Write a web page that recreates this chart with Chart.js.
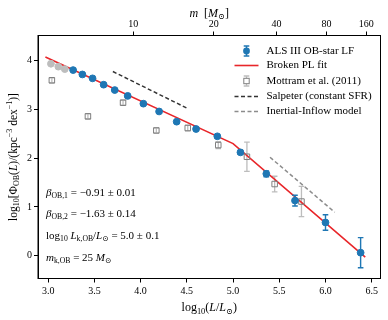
<!DOCTYPE html>
<html lang="en">
<head>
<meta charset="UTF-8">
<title>OB-star luminosity function</title>
<script src="https://cdn.jsdelivr.net/npm/chart.js"></script>
<style>
  body { margin: 0; background: #fff; }
  #wrap { width: 388px; height: 320px; position: relative; }
</style>
</head>
<body>
<div id="wrap"><canvas id="lf"></canvas></div>
<script>
    // ALS III OB-star LF (blue points)
    var blueL = [3.27, 3.37, 3.48, 3.60, 3.72, 3.86, 4.03, 4.20, 4.39, 4.60, 4.83, 5.08, 5.36, 5.67, 6.00, 6.38];
    var bluePhi = [3.81, 3.72, 3.64, 3.51, 3.40, 3.28, 3.12, 2.96, 2.75, 2.60, 2.45, 2.12, 1.68, 1.13, 0.68, 0.06];
    var blueErr = [0.01, 0.01, 0.01, 0.01, 0.01, 0.02, 0.02, 0.02, 0.02, 0.03, 0.03, 0.04, 0.06, 0.11, 0.16, 0.31];
    // bins left out of the fit (grey)
    var lowL = [3.03, 3.11, 3.18];
    var lowPhi = [3.94, 3.88, 3.83];
    // Mottram et al. (2011)
    var mottL = [3.04, 3.43, 3.81, 4.17, 4.51, 4.84, 5.15, 5.45, 5.74];
    var mottPhi = [3.60, 2.86, 3.14, 2.57, 2.62, 2.27, 2.03, 1.47, 1.11];
    var mottErr = [0.05, 0.05, 0.05, 0.05, 0.06, 0.07, 0.30, 0.16, 0.31];
    // broken power law fit
    var fitL = [2.97, 5.0, 6.43];
    var fitPhi = [4.08, 2.30, -0.03];
    // Salpeter (constant SFR)
    var salpL = [3.70, 4.50];
    var salpPhi = [3.78, 3.03];
    // Inertial-Inflow model
    var inflowL = [5.40, 6.10];
    var inflowPhi = [2.02, 0.89];
    // tick labels
    var lTicks = [3.0, 3.5, 4.0, 4.5, 5.0, 5.5, 6.0, 6.5];
    var phiTicks = [0, 1, 2, 3, 4];
    var massTicks = [10, 20, 40, 80, 160];
    var massTickL = [3.92, 4.79, 5.47, 6.01, 6.44];

    var SERIF = '"Liberation Serif", "DejaVu Serif", serif';
    var BLUE = '#1f77b4';

    function pts(xs, ys){
        return xs.map(function(x, i){ return {x: x, y: ys[i]}; });
    }

    // text with sub/superscripts: [text, style] with style containing i (italic), b (sub), p (sup)
    function segFont(s, size){
        var small = s.indexOf('b') >= 0 || s.indexOf('p') >= 0;
        return (s.indexOf('i') >= 0 ? 'italic ' : '') + (small ? size * 0.7 : size).toFixed(1) + 'px ' + SERIF;
    }
    function richWidth(ctx, segs, size){
        var w = 0;
        segs.forEach(function(sg){ ctx.font = segFont(sg[1], size); w += ctx.measureText(sg[0]).width; });
        return w;
    }
    function drawRich(ctx, segs, x, y, size, align){
        var cx = align === 'center' ? x - richWidth(ctx, segs, size) / 2 : x;
        ctx.textAlign = 'left';
        ctx.textBaseline = 'middle';
        segs.forEach(function(sg){
            ctx.font = segFont(sg[1], size);
            var dy = 0;
            if(sg[1].indexOf('b') >= 0) dy = size * 0.28;
            if(sg[1].indexOf('p') >= 0) dy = -size * 0.33;
            ctx.fillText(sg[0], cx, y + dy);
            cx += ctx.measureText(sg[0]).width;
        });
    }

    function errBar(ctx, px, py0, py1, cap){
        ctx.beginPath();
        ctx.moveTo(px, py0); ctx.lineTo(px, py1);
        ctx.moveTo(px - cap, py0); ctx.lineTo(px + cap, py0);
        ctx.moveTo(px - cap, py1); ctx.lineTo(px + cap, py1);
        ctx.stroke();
    }

    var errorBars = {
        id: 'errorBars',
        beforeDatasetsDraw: function(chart){
            var ctx = chart.ctx, xs = chart.scales.x, ys = chart.scales.y;
            ctx.save();
            ctx.strokeStyle = '#bdbdbd';
            ctx.lineWidth = 1.3;
            mottL.forEach(function(l, i){
                errBar(ctx, xs.getPixelForValue(l), ys.getPixelForValue(mottPhi[i] + mottErr[i]), ys.getPixelForValue(mottPhi[i] - mottErr[i]), 2.8);
            });
            ctx.restore();
        },
        afterDatasetsDraw: function(chart){
            var ctx = chart.ctx, xs = chart.scales.x, ys = chart.scales.y;
            ctx.save();
            ctx.strokeStyle = BLUE;
            ctx.lineWidth = 1.4;
            blueL.forEach(function(l, i){
                errBar(ctx, xs.getPixelForValue(l), ys.getPixelForValue(bluePhi[i] + blueErr[i]), ys.getPixelForValue(bluePhi[i] - blueErr[i]), 2.8);
            });
            ctx.restore();
        }
    };

    var decorations = {
        id: 'decorations',
        afterDraw: function(chart){
            var ctx = chart.ctx, a = chart.chartArea;
            ctx.save();
            // frame
            ctx.strokeStyle = '#000';
            ctx.lineWidth = 1;
            ctx.strokeRect(a.left, a.top, a.right - a.left, a.bottom - a.top);
            ctx.fillStyle = '#000';

            // axis titles
            var midX = (a.left + a.right) / 2;
            drawRich(ctx, [['log',''],['10','b'],['(',''],['L','i'],['/',''],['L','i'],['\u2299','b'],[')','']], midX, 308, 12, 'center');
            drawRich(ctx, [['m','i'],['  [',''],['M','i'],['\u2299','b'],[']','']], midX, 13.5, 12, 'center');
            ctx.save();
            ctx.translate(14, (a.top + a.bottom) / 2);
            ctx.rotate(-Math.PI / 2);
            drawRich(ctx, [['log',''],['10','b'],['[\u03A6',''],['OB','b'],['(',''],['L','i'],[')/(kpc',''],['\u22123','p'],[' dex',''],['\u22121','p'],[')]','']], 0, 0, 11.5, 'center');
            ctx.restore();

            // fit results
            var tx = a.left + 8;
            drawRich(ctx, [['\u03B2','i'],['OB,1','b'],[' = \u22120.91 \u00B1 0.01','']], tx, 193, 11, 'left');
            drawRich(ctx, [['\u03B2','i'],['OB,2','b'],[' = \u22121.63 \u00B1 0.14','']], tx, 214, 11, 'left');
            drawRich(ctx, [['log',''],['10','b'],[' ',''],['L','i'],['k,OB','b'],['/',''],['L','i'],['\u2299','b'],[' = 5.0 \u00B1 0.1','']], tx, 236, 11, 'left');
            drawRich(ctx, [['m','i'],['k,OB','b'],[' = 25 ',''],['M','i'],['\u2299','b']], tx, 258, 11, 'left');

            // legend
            var hx = a.right - 134, tx2 = a.right - 114, rows = [51, 65.5, 81, 96.5, 111.5];
            ctx.strokeStyle = BLUE; ctx.fillStyle = BLUE; ctx.lineWidth = 1.4;
            errBar(ctx, hx, rows[0] - 5, rows[0] + 5, 2.8);
            ctx.beginPath(); ctx.arc(hx, rows[0], 3.4, 0, Math.PI * 2); ctx.fill();
            ctx.strokeStyle = '#e8262a'; ctx.lineWidth = 1.6;
            ctx.beginPath(); ctx.moveTo(hx - 12, rows[1]); ctx.lineTo(hx + 12, rows[1]); ctx.stroke();
            ctx.strokeStyle = '#bdbdbd'; ctx.lineWidth = 1.3;
            errBar(ctx, hx, rows[2] - 5, rows[2] + 5, 2.8);
            ctx.strokeStyle = '#7f7f7f'; ctx.lineWidth = 1;
            ctx.fillStyle = '#fff';
            ctx.fillRect(hx - 2.7, rows[2] - 2.7, 5.4, 5.4);
            ctx.strokeRect(hx - 2.7, rows[2] - 2.7, 5.4, 5.4);
            ctx.setLineDash([4, 2.5]); ctx.lineWidth = 1.5;
            ctx.strokeStyle = '#333';
            ctx.beginPath(); ctx.moveTo(hx - 12, rows[3]); ctx.lineTo(hx + 12, rows[3]); ctx.stroke();
            ctx.strokeStyle = '#8c8c8c';
            ctx.beginPath(); ctx.moveTo(hx - 12, rows[4]); ctx.lineTo(hx + 12, rows[4]); ctx.stroke();
            ctx.setLineDash([]);
            ctx.fillStyle = '#000';
            var labels = ['ALS III OB-star LF', 'Broken PL fit', 'Mottram et al. (2011)', 'Salpeter (constant SFR)', 'Inertial-Inflow model'];
            labels.forEach(function(t, i){ drawRich(ctx, [[t, '']], tx2, rows[i], 11, 'left'); });
            ctx.restore();
        }
    };

    var tickFont = {family: SERIF, size: 10};
    var tickGrid = {drawOnChartArea: false, drawTicks: true, tickLength: 4, color: '#000', tickColor: '#000'};

    new Chart(document.getElementById('lf'), {
        type: 'scatter',
        data: {
            datasets: [
                {data: pts(blueL, bluePhi), backgroundColor: BLUE, borderColor: BLUE, pointRadius: 3.4, order: 0},
                {data: pts(lowL, lowPhi), backgroundColor: '#bdbdbd', borderColor: '#bdbdbd', pointRadius: 3.4, order: 1},
                {data: pts(mottL, mottPhi), pointStyle: 'rect', backgroundColor: 'rgba(255,255,255,0)', borderColor: '#7f7f7f', borderWidth: 1, pointRadius: 3.9, order: 2},
                {data: pts(fitL, fitPhi), showLine: true, borderColor: '#e8262a', borderWidth: 1.6, pointRadius: 0, order: 3},
                {data: pts(salpL, salpPhi), showLine: true, borderColor: '#333', borderDash: [4, 2.5], borderWidth: 1.5, pointRadius: 0, order: 4},
                {data: pts(inflowL, inflowPhi), showLine: true, borderColor: '#8c8c8c', borderDash: [4, 2.5], borderWidth: 1.5, pointRadius: 0, order: 4}
            ]
        },
        options: {
            responsive: true,
            maintainAspectRatio: false,
            animation: false,
            layout: {padding: {left: 0, right: 7.5, top: 0, bottom: 0}},
            plugins: {legend: {display: false}, tooltip: {enabled: false}},
            scales: {
                x: {
                    type: 'linear', position: 'bottom', min: 2.89, max: 6.595,
                    afterBuildTicks: function(s){ s.ticks = lTicks.map(function(v){ return {value: v}; }); },
                    afterFit: function(s){ s.height = 41.5; },
                    ticks: {font: tickFont, color: '#000', padding: 3, maxRotation: 0, autoSkip: false,
                        callback: function(v){ return Number(v).toFixed(1); }},
                    grid: tickGrid,
                    border: {color: '#000', width: 1}
                },
                x2: {
                    type: 'linear', axis: 'x', position: 'top', min: 2.89, max: 6.595,
                    afterBuildTicks: function(s){ s.ticks = massTickL.map(function(v){ return {value: v}; }); },
                    afterFit: function(s){ s.height = 35.5; },
                    ticks: {font: tickFont, color: '#000', padding: 1, maxRotation: 0, autoSkip: false,
                        callback: function(v, i){ return String(massTicks[i]); }},
                    grid: tickGrid,
                    border: {color: '#000', width: 1}
                },
                y: {
                    type: 'linear', min: -0.47, max: 4.52,
                    afterBuildTicks: function(s){ s.ticks = phiTicks.map(function(v){ return {value: v}; }); },
                    afterFit: function(s){ s.width = 38; },
                    ticks: {font: tickFont, color: '#000', padding: 2, autoSkip: false,
                        callback: function(v){ return String(v); }},
                    grid: tickGrid,
                    border: {color: '#000', width: 1}
                }
            }
        },
        plugins: [errorBars, decorations]
    });
</script>
</body>
</html>
